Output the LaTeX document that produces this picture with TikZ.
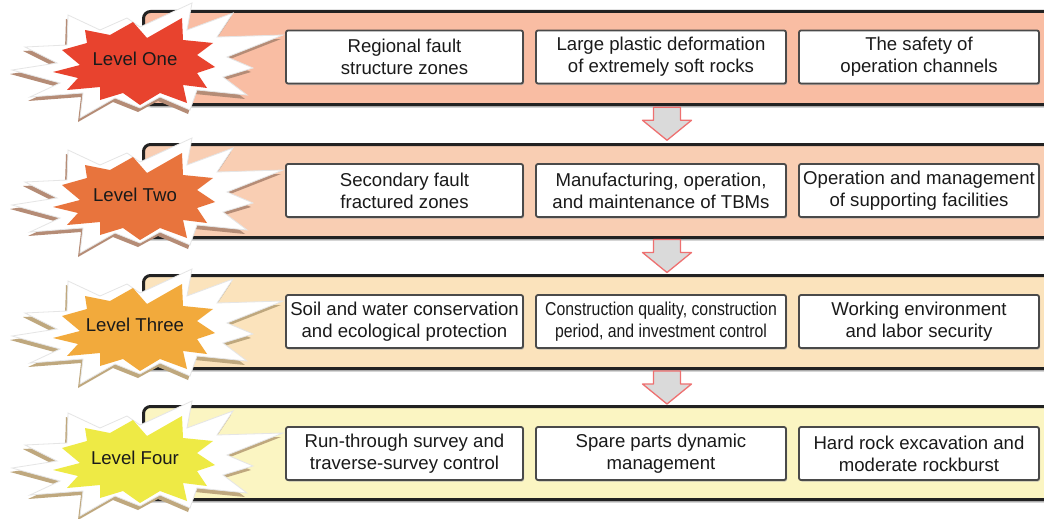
\documentclass[tikz,border=0pt]{standalone}
\usepackage{fontspec}
\setmainfont{Liberation Sans}
\newfontfamily\condfont[FakeStretch=0.85]{Liberation Sans}
\usetikzlibrary{calc,shadows}
\definecolor{bandA}{HTML}{F9BDA3}
\definecolor{bandB}{HTML}{F9CEB3}
\definecolor{bandC}{HTML}{FBE3BC}
\definecolor{bandD}{HTML}{FBF5C2}
\definecolor{starA}{HTML}{E8432E}
\definecolor{starB}{HTML}{E8743D}
\definecolor{starC}{HTML}{F2AA3C}
\definecolor{starD}{HTML}{EEEA45}
\definecolor{shA}{HTML}{B58C76}
\definecolor{shB}{HTML}{BFA87E}
\definecolor{bandline}{HTML}{222222}
\definecolor{boxline}{HTML}{4A4A4A}
\definecolor{txt}{HTML}{1A1A1A}
\definecolor{arrfill}{HTML}{DADADA}
\definecolor{arrline}{HTML}{EE7070}
\tikzset{
  band/.style={draw=bandline, line width=3, rounded corners=7, minimum width=1100,
    minimum height=93, anchor=north west, inner sep=0,
    drop shadow={shadow xshift=0pt, shadow yshift=-3pt, fill=black!25, opacity=1}},
  item/.style={draw=boxline, line width=1.8, fill=white, rounded corners=2, align=center,
    minimum height=53, inner sep=0, text=txt,
    drop shadow={shadow xshift=1pt, shadow yshift=-1.5pt, fill=black!35, opacity=.7}},
  lvl/.style={text=txt, inner sep=0},
  pics/burst/.style n args={2}{code={
    \fill[#2, shift={(-2,4)}] (-123,12) -- (-78,5) -- (-110,-11) -- (-68,-13) -- (-67,-43) -- (-35,-28) -- (-8,-40) -- (5,-31) -- (57,-55) -- (52,-28) -- (98,-45) -- (82,-21) -- (148,-23) -- (92,-1) -- (118,10) -- (88,19) -- (112,37) -- (62,32) -- (55,52) -- (25,39) -- (5,50) -- (-20,40) -- (-55,60) -- (-52,35) -- (-105,39) -- (-75,25) -- cycle;
    \filldraw[fill=white, draw=black!10, line width=0.8] (-123,12) -- (-78,5) -- (-110,-11) -- (-68,-13) -- (-67,-43) -- (-35,-28) -- (-8,-40) -- (5,-31) -- (57,-55) -- (52,-28) -- (98,-45) -- (82,-21) -- (148,-23) -- (92,-1) -- (118,10) -- (88,19) -- (112,37) -- (62,32) -- (55,52) -- (25,39) -- (5,50) -- (-20,40) -- (-55,60) -- (-52,35) -- (-105,39) -- (-75,25) -- cycle;
    \fill[#1] (-82,14) -- (-55,7) -- (-73,-8) -- (-48,-15) -- (-50,-28) -- (-25,-23) -- (-2,-36) -- (12,-20) -- (47,-40) -- (48,-18) -- (78,-15) -- (62,-3) -- (80,9) -- (62,15) -- (72,30) -- (48,27) -- (52,45) -- (25,35) -- (5,47) -- (-12,35) -- (-35,42) -- (-35,29) -- (-68,32) -- (-57,20) -- cycle;
  }},
  pics/downarr/.style={code={
    \filldraw[fill=arrfill, draw=arrline, line width=1.3, line join=round]
      (-13.5,-16.5) -- (13.5,-16.5) -- (13.5,-3.5) -- (24.5,-3.5) -- (0,16.5)
      -- (-24.5,-3.5) -- (-13.5,-3.5) -- cycle;
  }}
}
\begin{document}
\begin{tikzpicture}[x=1pt, y=-1pt, font=\fontsize{18.6}{22}\selectfont]
\useasboundingbox[fill=white] (0,0) rectangle (1044,519);

% bands
\node[band, fill=bandA] (b1) at (142,10) {};
\node[band, fill=bandB] (b2) at (142,143) {};
\node[band, fill=bandC] (b3) at (142,274) {};
\node[band, fill=bandD] (b4) at (142,405) {};

% starbursts
\pic at (135,58) {burst={starA}{shA}};
\pic at (135,193) {burst={starB}{shA}};
\pic at (135,324) {burst={starC}{shB}};
\pic at (135,456) {burst={starD}{shB}};
\node[lvl] (lv1) at (135,59) {Level One};
\node[lvl] (lv2) at (135,195) {Level Two};
\node[lvl] (lv3) at (135,325) {Level Three};
\node[lvl] (lv4) at (135,458) {Level Four};

% row 1
\node[item, minimum width=237] (l1) at (404.5,57) {Regional fault\\structure zones};
\node[item, minimum width=250] (m1) at (661,57) {Large plastic deformation\\of extremely soft rocks};
\node[item, minimum width=240] (r1) at (919,57) {The safety of\\operation channels};
% row 2
\node[item, minimum width=237] (l2) at (404.5,190.5) {Secondary fault\\fractured zones};
\node[item, minimum width=250] (m2) at (661,190.5) {Manufacturing, operation,\\and maintenance of TBMs};
\node[item, minimum width=240] (r2) at (919,190.5) {Operation and management\\of supporting facilities};
% row 3
\node[item, minimum width=237] (l3) at (404.5,321.5) {Soil and water conservation\\and ecological protection};
\node[item, minimum width=250, font=\condfont\fontsize{18.6}{22}\selectfont] (m3) at (661,321.5) {Construction quality, construction\\period, and investment control};
\node[item, minimum width=240] (r3) at (919,321.5) {Working environment\\and labor security};
% row 4
\node[item, minimum width=237] (l4) at (404.5,453.5) {Run-through survey and\\traverse-survey control};
\node[item, minimum width=250] (m4) at (661,453.5) {Spare parts dynamic\\management};
\node[item, minimum width=240] (r4) at (919,453.5) {Hard rock excavation and\\moderate rockburst};

% arrows between levels
\pic at ($(m1.south)!0.5!(m2.north)+(6,0)$) {downarr};
\pic at ($(m2.south)!0.5!(m3.north)+(6,0)$) {downarr};
\pic at ($(m3.south)!0.5!(m4.north)+(6,0)$) {downarr};
\end{tikzpicture}
\end{document}
